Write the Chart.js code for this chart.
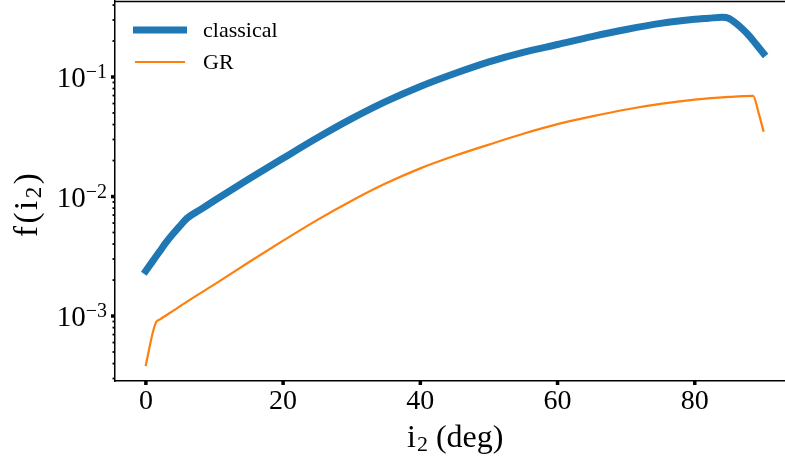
<!DOCTYPE html>
<html>
<head>
<meta charset="utf-8">
<script src="https://cdn.jsdelivr.net/npm/chart.js@4/dist/chart.umd.min.js"></script>
<style>
  html, body { margin: 0; padding: 0; background: #fff; }
  #plot { display: block; }
</style>
</head>
<body>
<canvas id="plot" width="785" height="460"></canvas>
<script>
// inclination i2 (deg) and f(i2) for the classical curve
const classicalAngles = [0, 1, 2, 3, 4, 5, 6, 8, 10, 15, 20, 25, 30, 35, 40, 45, 50, 55, 60, 65, 70, 75, 80, 82, 84, 85, 86, 87, 88, 89, 90];
const classicalValues = [0.00239, 0.00288, 0.00347, 0.00417, 0.0049, 0.00569, 0.00658, 0.0078, 0.00925, 0.014, 0.0209, 0.031, 0.0448, 0.0625, 0.0834, 0.107, 0.134, 0.161, 0.187, 0.218, 0.25, 0.281, 0.304, 0.31, 0.316, 0.309, 0.282, 0.251, 0.219, 0.186, 0.158];
// same for GR
const grAngles = [0, 0.5, 1, 1.5, 2, 4, 6, 10, 15, 20, 25, 30, 35, 40, 45, 50, 55, 60, 65, 70, 75, 80, 85, 88.5, 89.3, 90];
const grValues = [0.000389, 0.000537, 0.000724, 0.000891, 0.000933, 0.00111, 0.00132, 0.00184, 0.00282, 0.00427, 0.00638, 0.00923, 0.0129, 0.0172, 0.0219, 0.0272, 0.0335, 0.0403, 0.0468, 0.0535, 0.0596, 0.0646, 0.0681, 0.0695, 0.0501, 0.0356];

const seriesNames = ["classical", "GR"];
const xTickValues = [0, 20, 40, 60, 80];
const yMajorTicks = [0.001, 0.01, 0.1];

const serif = "'Liberation Serif', 'DejaVu Serif', serif";

const toPoints = (xs, ys) => xs.map((x, i) => ({ x: x, y: ys[i] }));

//draws spines, tick marks, y labels, titles and legend
const decor = {
  id: "decor",
  afterDraw(chart) {
    const ctx = chart.ctx;
    const area = chart.chartArea;
    const xs = chart.scales.x;
    const ys = chart.scales.y;
    ctx.save();
    ctx.fillStyle = "#000";
    ctx.strokeStyle = "#000";
    //top spine
    ctx.lineWidth = 1.5;
    ctx.beginPath();
    ctx.moveTo(area.left, area.top + 0.5);
    ctx.lineTo(area.right, area.top + 0.5);
    ctx.stroke();
    //x ticks
    xs.ticks.forEach((t) => {
      const px = xs.getPixelForValue(t.value);
      ctx.fillRect(px - 1.75, area.bottom, 3.5, 4);
    });
    //y ticks, major and minor
    ys.ticks.forEach((t) => {
      const py = ys.getPixelForValue(t.value);
      if (yMajorTicks.some((m) => Math.abs(m - t.value) / m < 1e-6)) {
        ctx.fillRect(area.left - 4, py - 1.75, 4, 3.5);
      } else {
        ctx.fillRect(area.left - 2.5, py - 0.9, 2.5, 1.8);
      }
    });
    //y labels as 10^k
    yMajorTicks.forEach((v) => {
      const py = ys.getPixelForValue(v);
      const exp = "\u2212" + Math.round(-Math.log10(v));
      ctx.font = "20px " + serif;
      const ew = ctx.measureText(exp).width;
      ctx.font = "29px " + serif;
      const bw = ctx.measureText("10").width;
      const right = 107;
      ctx.textAlign = "left";
      ctx.textBaseline = "alphabetic";
      ctx.fillText("10", right - ew - bw, py + 10);
      ctx.font = "20px " + serif;
      ctx.fillText(exp, right - ew, py + 1);
    });
    //x title: i2 (deg)
    ctx.textBaseline = "alphabetic";
    ctx.textAlign = "left";
    let x = 407;
    const base = 447;
    ctx.font = "32px " + serif;
    ctx.fillText("i", x, base);
    x += ctx.measureText("i").width + 1;
    ctx.font = "22px " + serif;
    ctx.fillText("2", x, base + 4);
    x += ctx.measureText("2").width;
    ctx.font = "32px " + serif;
    ctx.fillText(" (deg)", x, base);
    //y title: f(i2), rotated
    ctx.save();
    ctx.translate(37, 237);
    ctx.rotate(-Math.PI / 2);
    let y = 0;
    const parts = [["f", 33, 0], ["(", 33, 0], ["i", 33, 0], ["2", 23, 4], [")", 33, 0]];
    parts.forEach((p) => {
      ctx.font = p[1] + "px " + serif;
      ctx.fillText(p[0], y, p[2]);
      y += ctx.measureText(p[0]).width + 2.5;
    });
    ctx.restore();
    //legend
    const rows = [30, 62];
    chart.data.datasets.forEach((ds, i) => {
      ctx.strokeStyle = ds.borderColor;
      ctx.lineWidth = ds.borderWidth;
      ctx.lineCap = "butt";
      ctx.beginPath();
      ctx.moveTo(i === 0 ? 133 : 135, rows[i]);
      ctx.lineTo(i === 0 ? 187 : 185, rows[i]);
      ctx.stroke();
      ctx.fillStyle = "#000";
      ctx.font = "22px " + serif;
      ctx.textBaseline = "middle";
      ctx.fillText(ds.label, 203, rows[i] + 1);
    });
    ctx.restore();
  },
};

const plot = new Chart(document.getElementById("plot"), {
  type: "line",
  data: {
    datasets: [
      {
        label: seriesNames[0],
        data: toPoints(classicalAngles, classicalValues),
        borderColor: "#1f77b4",
        borderWidth: 7,
        pointRadius: 0,
        cubicInterpolationMode: "monotone",
        borderCapStyle: "square",
        borderJoinStyle: "round",
      },
      {
        label: seriesNames[1],
        data: toPoints(grAngles, grValues),
        borderColor: "#ff7f0e",
        borderWidth: 2.2,
        pointRadius: 0,
        cubicInterpolationMode: "monotone",
        borderCapStyle: "square",
        borderJoinStyle: "round",
      },
    ],
  },
  options: {
    responsive: false,
    animation: false,
    layout: { padding: { top: 1, left: 0, right: 0, bottom: 0 } },
    plugins: { legend: { display: false }, tooltip: { enabled: false } },
    scales: {
      x: {
        type: "linear",
        min: -4.5,
        max: 93.15,
        afterBuildTicks: (s) => {
          s.ticks = xTickValues.map((v) => ({ value: v }));
        },
        afterFit: (s) => {
          s.height = 79;
        },
        ticks: {
          color: "#000",
          font: { family: serif, size: 28 },
          padding: 4,
          maxRotation: 0,
        },
        grid: { display: false, drawTicks: false },
        border: { color: "#000", width: 1.5 },
      },
      y: {
        type: "logarithmic",
        min: 2.86e-4,
        max: 0.4325,
        afterBuildTicks: (s) => {
          s.ticks = s.ticks.filter((t) => {
            const m = t.value / Math.pow(10, Math.floor(Math.log10(t.value) + 1e-9));
            return Math.abs(m - Math.round(m)) < 1e-6;
          });
        },
        afterFit: (s) => {
          s.width = 115;
        },
        ticks: { display: false },
        grid: { display: false, drawTicks: false },
        border: { color: "#000", width: 1.5 },
      },
    },
  },
  plugins: [decor],
});
</script>
</body>
</html>
